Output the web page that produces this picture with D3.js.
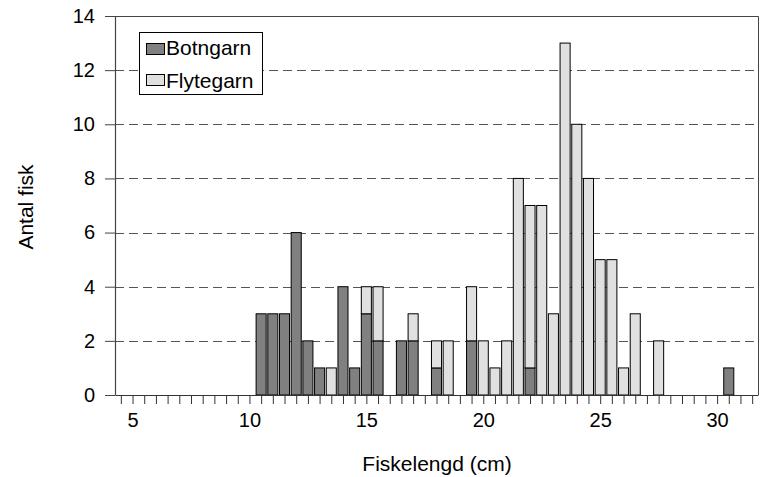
<!DOCTYPE html>
<html>
<head>
<meta charset="utf-8">
<script src="https://d3js.org/d3.v7.min.js"></script>
<style>
  body { margin: 0; background: #fff; }
  svg { display: block; font-family: "Liberation Sans", Arial, sans-serif; }
</style>
</head>
<body>
<svg id="chart" width="760" height="477"></svg>
<script>
// fish length bins (cm) and counts per gear
var lengths   = [10.5, 11, 11.5, 12, 12.5, 13, 13.5, 14, 14.5, 15, 15.5, 16.5, 17, 18, 18.5, 19.5,
                 20, 20.5, 21, 21.5, 22, 22.5, 23, 23.5, 24, 24.5, 25, 25.5, 26, 26.5, 27.5, 30.5];
var botngarn  = [3, 3, 3, 6, 2, 1, 0, 4, 1, 3, 2, 2, 2, 1, 0, 2,
                 0, 0, 0, 0, 1, 0, 0, 0, 0, 0, 0, 0, 0, 0, 0, 1];
var flytegarn = [0, 0, 0, 0, 0, 0, 1, 0, 0, 1, 2, 0, 1, 1, 2, 2,
                 2, 1, 2, 8, 6, 7, 3, 13, 10, 8, 5, 5, 1, 3, 2, 0];
var series = ["Botngarn", "Flytegarn"];
var yTicks = [0, 2, 4, 6, 8, 10, 12, 14];
var xLabels = [5, 10, 15, 20, 25, 30];

var colors = { Botngarn: "#808080", Flytegarn: "#e0e0e0" };

var svg = d3.select("#chart");
var mLeft = 115, mRight = 758, mTop = 16, mBottom = 395;

var x = d3.scaleLinear().domain([4.25, 31.75]).range([mLeft, mRight]);
var y = d3.scaleLinear().domain([0, 14]).range([mBottom, mTop]);

var rows = lengths.map(function(l, i) {
  return { len: l, Botngarn: botngarn[i], Flytegarn: flytegarn[i] };
});
var stacked = d3.stack().keys(series)(rows);

// dashed grid lines
svg.append("g")
  .selectAll("line")
  .data(yTicks.filter(function(d) { return d > 0 && d < 14; }))
  .enter().append("line")
  .attr("x1", mLeft).attr("x2", mRight)
  .attr("y1", function(d) { return Math.round(y(d)) + 0.5; })
  .attr("y2", function(d) { return Math.round(y(d)) + 0.5; })
  .attr("stroke", "#555")
  .attr("stroke-width", 1.2)
  .attr("stroke-dasharray", "9,5");

// bars
var bw = x(0.43) - x(0);
svg.append("g")
  .selectAll("g")
  .data(stacked)
  .enter().append("g")
  .attr("fill", function(d) { return colors[d.key]; })
  .selectAll("rect")
  .data(function(d) { return d.filter(function(p) { return p[1] > p[0]; }); })
  .enter().append("rect")
  .attr("x", function(d) { return x(d.data.len) - bw / 2; })
  .attr("y", function(d) { return y(d[1]); })
  .attr("width", bw)
  .attr("height", function(d) { return y(d[0]) - y(d[1]); })
  .attr("stroke", "#000")
  .attr("stroke-width", 1);

// frame
svg.append("path")
  .attr("d", "M" + mLeft + "," + (mTop + 0.5) + "H" + (mRight + 0.5) + "V" + mBottom)
  .attr("fill", "none")
  .attr("stroke", "#444")
  .attr("stroke-width", 1);

// x axis
var xAxis = svg.append("g")
  .attr("transform", "translate(0," + mBottom + ")")
  .call(d3.axisBottom(x)
    .tickValues(d3.range(4.5, 31.6, 0.5))
    .tickSize(9)
    .tickSizeOuter(0)
    .tickFormat(function(d) { return xLabels.indexOf(d) >= 0 ? d : ""; }));
xAxis.select(".domain").attr("stroke", "#333").attr("stroke-width", 1.2);
xAxis.selectAll(".tick line").attr("stroke", "#333");
xAxis.selectAll(".tick text")
  .attr("y", 32).attr("dy", null)
  .attr("font-size", 20).attr("fill", "#000")
  .attr("font-family", "Liberation Sans, Arial, sans-serif");

// y axis
var yAxis = svg.append("g")
  .attr("transform", "translate(" + mLeft + ",0)")
  .call(d3.axisLeft(y).tickValues(yTicks).tickSize(10).tickSizeOuter(0));
yAxis.select(".domain").attr("stroke", "#444").attr("stroke-width", 1.2);
yAxis.selectAll(".tick line").attr("stroke", "#444");
yAxis.selectAll(".tick text")
  .attr("x", -20)
  .attr("font-size", 20).attr("fill", "#000")
  .attr("font-family", "Liberation Sans, Arial, sans-serif");

// axis titles
svg.append("text")
  .attr("x", 437).attr("y", 471)
  .attr("text-anchor", "middle")
  .attr("font-size", 21)
  .text("Fiskelengd (cm)");

svg.append("text")
  .attr("transform", "translate(33,207) rotate(-90)")
  .attr("text-anchor", "middle")
  .attr("font-size", 21)
  .text("Antal fisk");

// legend
var lg = svg.append("g");
lg.append("rect")
  .attr("x", 139.5).attr("y", 32.5).attr("width", 123).attr("height", 62)
  .attr("fill", "#fff").attr("stroke", "#000");
series.forEach(function(s, i) {
  lg.append("rect")
    .attr("x", 146.5).attr("y", 43.5 + i * 31).attr("width", 18).attr("height", 11)
    .attr("fill", colors[s]).attr("stroke", "#000");
  lg.append("text")
    .attr("x", 166).attr("y", 55 + i * 33)
    .attr("font-size", 21)
    .text(s);
});
</script>
</body>
</html>
